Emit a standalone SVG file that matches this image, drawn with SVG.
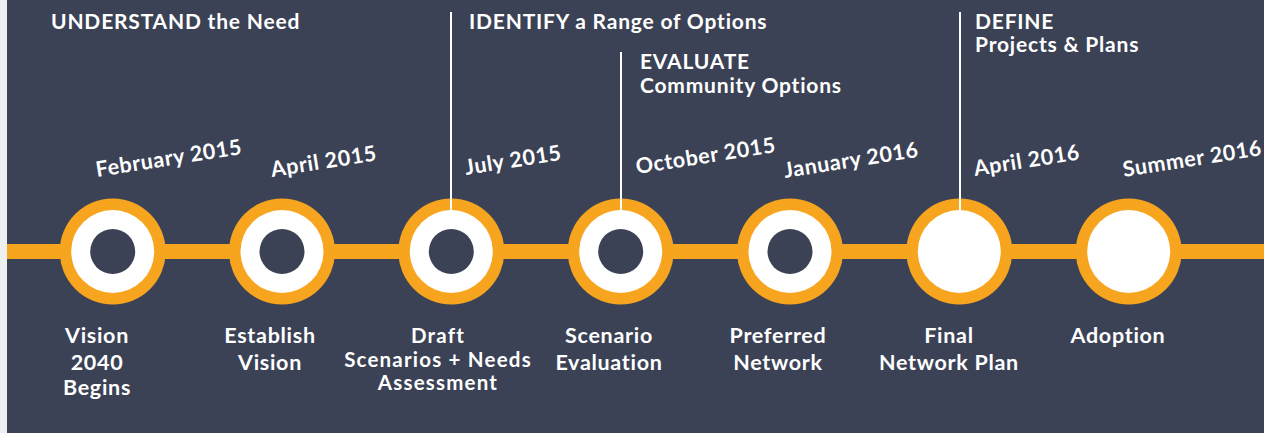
<svg xmlns="http://www.w3.org/2000/svg" width="1264" height="433" viewBox="0 0 1264 433">
<style>
.t{font-family:Lato,"Noto Sans",sans-serif;font-weight:700;fill:#ffffff}
.h{font-size:21px;letter-spacing:0.8px}
.d{font-size:21.5px;letter-spacing:0.6px}
.l{font-size:21.5px;letter-spacing:0.7px;text-anchor:middle}
.s{font-size:20.5px;letter-spacing:1.2px}
.ring{fill:#f7a51f}
.w{fill:#ffffff}
.c{fill:#3b4255}
.v{stroke:#ffffff;stroke-width:2}
</style>
<rect x="0" y="0" width="1264" height="433" fill="#eef0ef"/>
<rect x="7" y="0" width="1257" height="433" fill="#3b4255"/>
<g id="connectors">
<rect x="7" y="244" width="1257" height="15" fill="#f7a51f"/>
</g>
<g id="phases">
<text class="t h" x="51" y="29">UNDERSTAND the Need</text>
<text class="t h" x="469" y="29">IDENTIFY a Range of Options</text>
<text class="t h" x="640" y="69">EVALUATE</text>
<text class="t h" x="640" y="93">Community Options</text>
<text class="t h" x="975" y="29">DEFINE</text>
<text class="t h" x="975" y="52">Projects &amp; Plans</text>
</g>
<g id="n1">
<circle class="ring" cx="112.7" cy="251.5" r="53"/><circle class="w" cx="112.7" cy="251.5" r="41.5"/><circle class="c" cx="112.7" cy="251.5" r="22.5"/>
<text class="t d" transform="translate(97,177) rotate(-9)">February 2015</text>
<text class="t l" x="97" y="343">Vision</text><text class="t l" x="97" y="370">2040</text><text class="t l" x="97" y="395">Begins</text>
</g>
<g id="n2">
<circle class="ring" cx="282" cy="251.5" r="53"/><circle class="w" cx="282" cy="251.5" r="41.5"/><circle class="c" cx="282" cy="251.5" r="22.5"/>
<text class="t d" transform="translate(272,177) rotate(-9)">April 2015</text>
<text class="t l" x="270" y="343">Establish</text><text class="t l" x="270" y="370">Vision</text>
</g>
<g id="n3">
<circle class="ring" cx="451.3" cy="251.5" r="53"/><circle class="w" cx="451.3" cy="251.5" r="41.5"/><circle class="c" cx="451.3" cy="251.5" r="22.5"/>
<line class="v" x1="451" y1="12" x2="451" y2="210"/>
<text class="t d" transform="translate(466,175) rotate(-9)">July 2015</text>
<text class="t l s" x="438" y="343">Draft</text><text class="t l s" x="438" y="367">Scenarios + Needs</text><text class="t l s" x="438" y="390">Assessment</text>
</g>
<g id="n4">
<circle class="ring" cx="620.7" cy="251.5" r="53"/><circle class="w" cx="620.7" cy="251.5" r="41.5"/><circle class="c" cx="620.7" cy="251.5" r="22.5"/>
<line class="v" x1="621" y1="52" x2="621" y2="210"/>
<text class="t d" transform="translate(637,174) rotate(-9)">October 2015</text>
<text class="t l" x="609" y="343">Scenario</text><text class="t l" x="609" y="370">Evaluation</text>
</g>
<g id="n5">
<circle class="ring" cx="790" cy="251.5" r="53"/><circle class="w" cx="790" cy="251.5" r="41.5"/><circle class="c" cx="790" cy="251.5" r="22.5"/>
<text class="t d" transform="translate(785,178) rotate(-9)">January 2016</text>
<text class="t l" x="778" y="343">Preferred</text><text class="t l" x="778" y="370">Network</text>
</g>
<g id="n6">
<circle class="ring" cx="959.3" cy="251.5" r="53"/><circle class="w" cx="959.3" cy="251.5" r="41.5"/>
<line class="v" x1="960" y1="12" x2="960" y2="210"/>
<text class="t d" transform="translate(975,176) rotate(-9)">April 2016</text>
<text class="t l" x="949" y="343">Final</text><text class="t l" x="949" y="370">Network Plan</text>
</g>
<g id="n7">
<circle class="ring" cx="1128.7" cy="251.5" r="53"/><circle class="w" cx="1128.7" cy="251.5" r="41.5"/>
<text class="t d" transform="translate(1124,177) rotate(-9)">Summer 2016</text>
<text class="t l" x="1118" y="343">Adoption</text>
</g>
</svg>
